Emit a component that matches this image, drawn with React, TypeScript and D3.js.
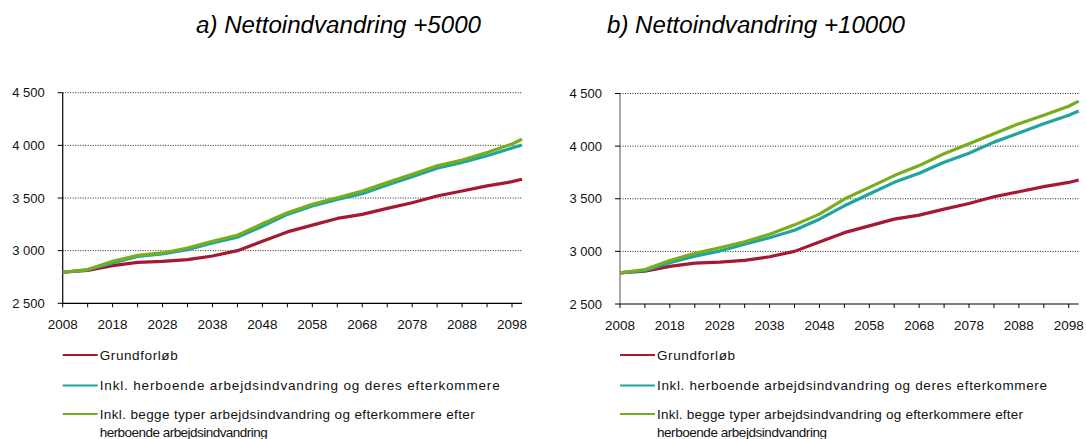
import * as d3 from 'd3';

// years the series are read at
const YEARS = [2008, 2013, 2018, 2023, 2028, 2033, 2038, 2043, 2048, 2053, 2058, 2063, 2068, 2073, 2078, 2083, 2088, 2093, 2098, 2100];

// Grundforløb (same in both panels)
const GRUND = [2795, 2812, 2857, 2888, 2898, 2914, 2949, 3000, 3089, 3178, 3242, 3306, 3344, 3401, 3455, 3519, 3567, 3615, 3655, 3678];

// a) Nettoindvandring +5000
const A_HERBOENDE = [2795, 2818, 2882, 2946, 2968, 3010, 3073, 3127, 3232, 3344, 3424, 3487, 3541, 3624, 3701, 3783, 3838, 3901, 3975, 4003];
const A_BEGGE = [2795, 2820, 2898, 2955, 2978, 3025, 3089, 3146, 3255, 3360, 3440, 3503, 3567, 3646, 3726, 3806, 3860, 3933, 4013, 4058];

// b) Nettoindvandring +10000
const B_HERBOENDE = [2795, 2818, 2892, 2955, 3003, 3067, 3130, 3201, 3306, 3433, 3545, 3656, 3742, 3847, 3933, 4038, 4124, 4213, 4293, 4334];
const B_BEGGE = [2795, 2828, 2914, 2981, 3035, 3092, 3162, 3252, 3354, 3497, 3608, 3720, 3815, 3927, 4022, 4118, 4213, 4293, 4379, 4428];

const Y_TICKS = [2500, 3000, 3500, 4000, 4500];
const X_LABELS = [2008, 2018, 2028, 2038, 2048, 2058, 2068, 2078, 2088, 2098];
const X_MINOR = d3.range(2008, 2101, 5);

const SERIES_NAMES = [
  'Grundforløb',
  'Inkl. herboende arbejdsindvandring og deres efterkommere',
  'Inkl. begge typer arbejdsindvandring og efterkommere efter',
];
const LEGEND_WRAP = 'herboende arbejdsindvandring';
const COLORS = ['#a51a32', '#1ea59f', '#78ae1c'];

const FONT = '"Liberation Sans", Arial, sans-serif';
const fmt = (v: number) => d3.format(',')(v).replace(',', ' ');

interface PanelProps {
  title: string;
  titleX: number;
  titleLen: number;
  x0: number;
  x1: number;
  yTop: number;
  yBottom: number;
  series: number[][];
  axisColor: string;
  legendLens: number[];
}

function Panel({ title, titleX, titleLen, x0, x1, yTop, yBottom, series, axisColor, legendLens }: PanelProps) {
  const x = d3.scaleLinear().domain([2008, 2100]).range([x0, x1]);
  const y = d3.scaleLinear().domain([2500, 4500]).range([yBottom, yTop]);
  const line = d3.line<number>()
    .x((_, i) => x(YEARS[i]))
    .y(d => y(d));

  const legendY = [355, 385.5, 414];

  return (
    <g>
      <text x={titleX} y={33} fontSize={23} fontStyle="italic" fontFamily={FONT}
        textLength={titleLen} lengthAdjust="spacingAndGlyphs">
        {title}
      </text>

      {/* gridlines */}
      {Y_TICKS.filter(t => t > 2500).map(t => (
        <line key={t} x1={x0} x2={x1} y1={y(t)} y2={y(t)}
          stroke="#222" strokeWidth={1} strokeDasharray="1 1.5" />
      ))}

      {/* y axis */}
      <line x1={x0} x2={x0} y1={yTop} y2={yBottom} stroke={axisColor} strokeWidth={1.2} />
      {Y_TICKS.map(t => (
        <g key={t}>
          <line x1={x0 - 5} x2={x0} y1={y(t)} y2={y(t)} stroke="#000" />
          <text x={x0 - 18} y={y(t)} dy="0.35em" textAnchor="end" fontSize={13} fontFamily={FONT} fill="#111">
            {fmt(t)}
          </text>
        </g>
      ))}

      {/* x axis */}
      <line x1={x0} x2={x1} y1={yBottom} y2={yBottom} stroke="#000" strokeWidth={1.2} />
      {X_MINOR.map(t => (
        <line key={t} x1={x(t)} x2={x(t)} y1={yBottom} y2={yBottom + 4} stroke="#000" />
      ))}
      {X_LABELS.map(t => (
        <text key={t} x={x(t)} y={yBottom + 26} textAnchor="middle" fontSize={13.5} fontFamily={FONT} fill="#111">
          {t}
        </text>
      ))}

      {/* series */}
      {series.map((s, i) => (
        <path key={i} d={line(s) ?? ''} fill="none" stroke={COLORS[i]} strokeWidth={3.2} strokeLinejoin="round" />
      ))}

      {/* legend */}
      {SERIES_NAMES.map((name, i) => (
        <g key={name}>
          <line x1={x0} x2={x0 + 35} y1={legendY[i]} y2={legendY[i]} stroke={COLORS[i]} strokeWidth={2} />
          <text x={x0 + 37} y={legendY[i]} dy="0.35em" fontSize={13.5} fontFamily={FONT} fill="#111"
            textLength={legendLens[i]} lengthAdjust="spacing">
            {name}
          </text>
        </g>
      ))}
      <text x={x0 + 37} y={legendY[2] + 18} dy="0.35em" fontSize={13.5} fontFamily={FONT} fill="#111"
        textLength={legendLens[3]} lengthAdjust="spacing">
        {LEGEND_WRAP}
      </text>
    </g>
  );
}

export default function App() {
  return (
    <svg width={1086} height={439} style={{ position: 'absolute', left: 0, top: 0, background: '#fff' }}>
      <Panel title="a) Nettoindvandring +5000" titleX={196} titleLen={285} x0={62.7} x1={522} yTop={92.7} yBottom={303.3}
        series={[GRUND, A_HERBOENDE, A_BEGGE]} axisColor="#000" legendLens={[78, 400, 375, 168]} />
      <Panel title="b) Nettoindvandring +10000" titleX={607} titleLen={298} x0={620} x1={1078.7} yTop={93.5} yBottom={304}
        series={[GRUND, B_HERBOENDE, B_BEGGE]} axisColor="#707070" legendLens={[78, 390, 366, 170]} />
    </svg>
  );
}
